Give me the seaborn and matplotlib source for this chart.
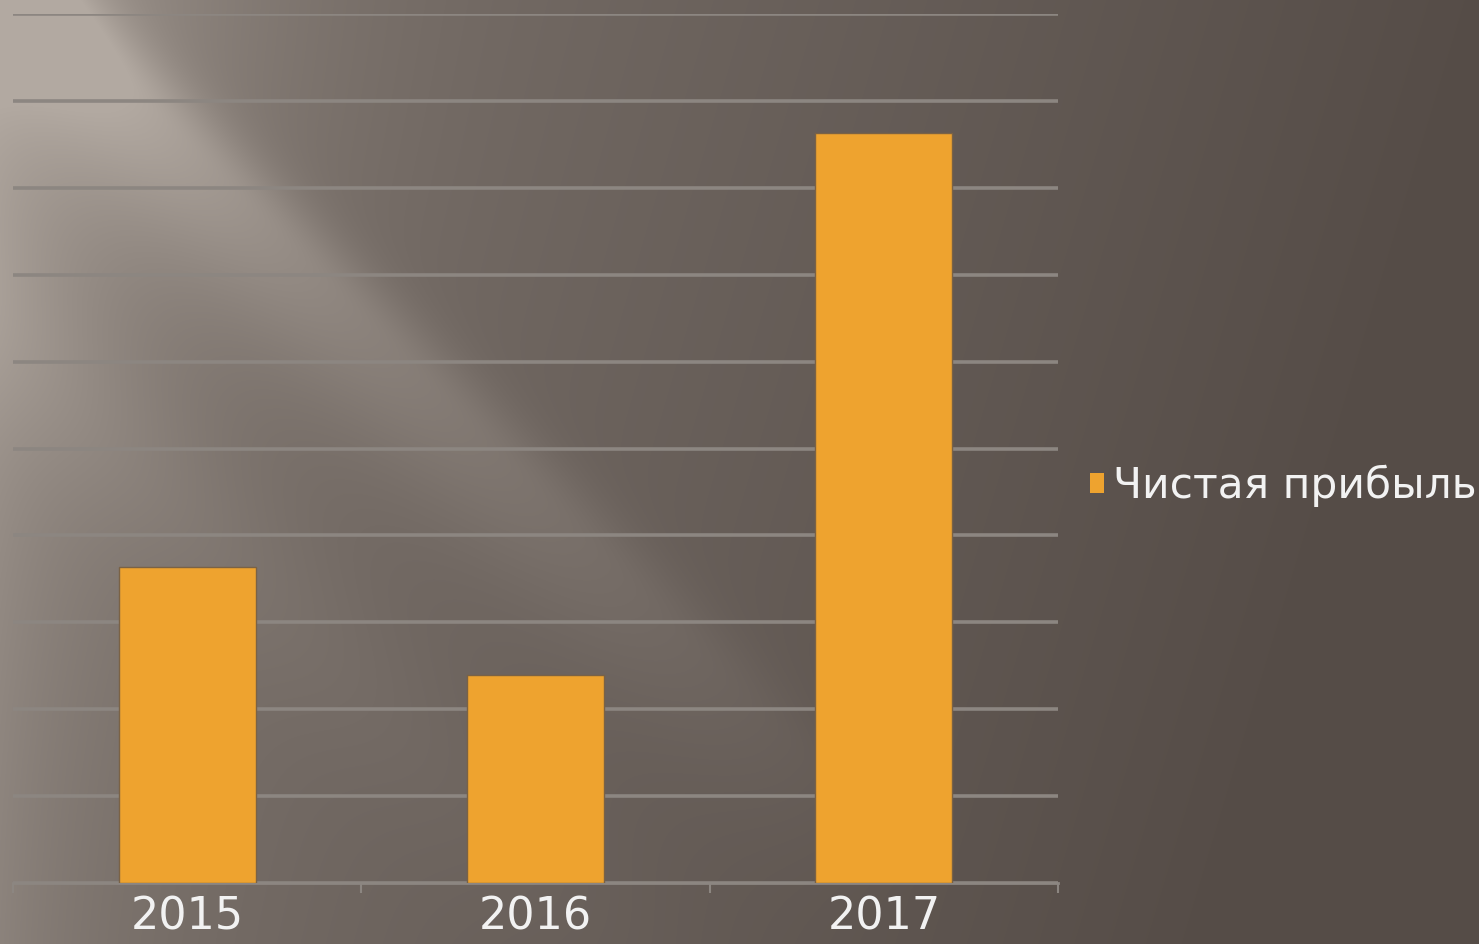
import numpy as np
import pandas as pd
import seaborn as sns
from matplotlib import pyplot as plt
from matplotlib.patches import Patch

# data
years = ['2015', '2016', '2017']
profit = [3.64, 2.39, 8.63]
series_name = 'Чистая прибыль'

bar_color = '#EEA32F'
text_color = '#F2F2F2'
grid_color = '#8C8681'

df = pd.DataFrame({'year': years, 'profit': profit})

sns.set_style('white')
plt.rcParams['font.family'] = ['DejaVu Sans']

fig = plt.figure(figsize=(14.79, 9.44), dpi=100)

# background: brown-grey gradient with a soft light diagonal streak
bg = fig.add_axes([0, 0, 1, 1], zorder=0)
h, w = 944, 1479
yy, xx = np.mgrid[0:h, 0:w].astype(float)
dark = np.array([0x55, 0x4C, 0x47]) / 255
light = np.array([0xB2, 0xA9, 0xA1]) / 255
base = np.clip(1 - (xx + 0.3 * yy) / 1500, 0, 1) * 0.45
edge = 0.22 * np.exp(-xx / 110)
d = xx - yy
fade = np.clip(1 - (xx + yy) / 1800, 0, 1)
band = np.where(d < 40, np.exp(-((d - 40) / 130) ** 2), np.exp(-((d - 40) / 60) ** 2)) * 0.4 * fade
band2 = np.exp(-((d + 330) / 110) ** 2) * 0.12 * fade
topleft = 0.25 * np.exp(-((xx / 260) ** 2 + (yy / 450) ** 2))
mix = np.clip(base + edge + band + band2 + topleft, 0, 1)
img = dark[None, None, :] * (1 - mix[..., None]) + light[None, None, :] * mix[..., None]
bg.imshow(img, aspect='auto', extent=[0, 1, 0, 1])
bg.axis('off')

ax = fig.add_axes([13 / 1479, 61 / 944, 1045 / 1479, 869 / 944], zorder=1)
ax.patch.set_alpha(0)

sns.barplot(data=df, x='year', y='profit', color=bar_color, width=0.393,
            saturation=1, ax=ax, zorder=3, edgecolor='#7A6245', linewidth=1)

ax.set_ylim(0, 10)
ax.set_xlim(-0.5, 2.5)
ax.set_yticks(np.arange(0, 11, 1))
ax.yaxis.grid(True, color=grid_color, linewidth=2.6, zorder=0)
ax.set_axisbelow(True)
ax.tick_params(axis='y', left=False, labelleft=False)
ax.set_xticks([0, 1, 2])
ax.set_xticklabels(years)
ax.set_xticks([-0.5, 0.5, 1.5, 2.5], minor=True)
ax.tick_params(axis='x', which='major', bottom=False, length=0, labelsize=32,
               labelcolor=text_color, pad=9)
ax.tick_params(axis='x', which='minor', bottom=True, length=7, width=1.5,
               color=grid_color, direction='out')
ax.set_xlabel('')
ax.set_ylabel('')
for s in ['top', 'right', 'left']:
    ax.spines[s].set_visible(False)
ax.spines['bottom'].set_color(grid_color)
ax.spines['bottom'].set_linewidth(2)

handle = Patch(facecolor=bar_color, edgecolor='none')
leg = fig.legend([handle], [series_name], loc='center left',
                 bbox_to_anchor=(1052 / 1479, 1 - 486 / 944), frameon=False,
                 fontsize=30.5, labelcolor=text_color, handlelength=0.33, handleheight=0.33,
                 handletextpad=0.22)

fig.savefig('out.png', dpi=100)
